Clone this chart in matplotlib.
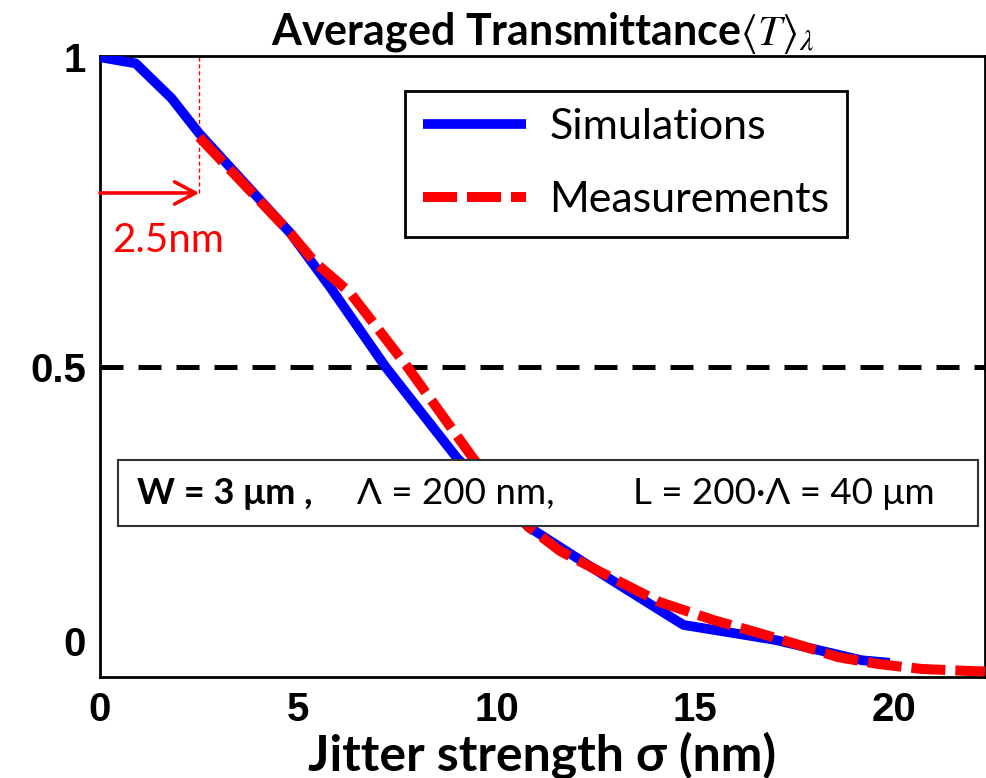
import matplotlib
matplotlib.use("Agg")
import matplotlib.pyplot as plt
from matplotlib.patches import Rectangle
from matplotlib.transforms import ScaledTranslation

# simulated averaged transmittance vs jitter strength
sim_x = [0, 0.9, 1.8, 2.5, 4.8, 5.8, 7.2, 9.0, 10.8, 12.9, 14.7, 17.0, 19.2, 19.9]
sim_y = [1.0, 0.99, 0.934, 0.877, 0.716, 0.629, 0.50, 0.353, 0.242, 0.156, 0.084, 0.060, 0.027, 0.023]

# measured
meas_x = [2.5, 4.8, 5.4, 6.3, 7.75, 9.4, 10.8, 11.6, 12.5, 14.1, 15.45, 16.6, 17.6, 18.6, 19.6, 20.7, 21.8, 22.3]
meas_y = [0.871, 0.716, 0.670, 0.620, 0.50, 0.353, 0.242, 0.203, 0.173, 0.121, 0.092, 0.071, 0.052, 0.032, 0.021, 0.013, 0.010, 0.009]

x_ticks = [0, 5, 10, 15, 20]
y_ticks = [0, 0.5, 1]
y_ticklabels = ["0", "0.5", "1"]
threshold = 0.5
offset_nm = 2.5
arrow_y = 0.781

fam = ["Lato", "DejaVu Sans"]
tick_fam = ["Liberation Sans", "DejaVu Sans"]
plt.rcParams["mathtext.fontset"] = "stix"

fig = plt.figure(figsize=(9.87, 7.78), dpi=100)
ax = fig.add_axes([100/987, 1-677/778, 885/987, 621/778])

ax.plot(sim_x, sim_y, color="#0000ff", lw=7, label="Simulations", solid_capstyle="butt", zorder=3)
ax.plot(meas_x, meas_y, color="#ff0000", lw=7.2, dashes=(3.4, 1.0), label="Measurements", zorder=4)
ax.axhline(threshold, color="black", lw=3.6, dashes=(4.6, 3.0), zorder=2)

# 2.5 nm marker
ax.plot([offset_nm, offset_nm], [arrow_y, 1.0], color="red", lw=1, dashes=(3, 2), zorder=2)
ax.annotate("", xy=(offset_nm, arrow_y), xytext=(0, arrow_y),
            arrowprops=dict(arrowstyle="->,head_length=0.75,head_width=0.4", color="red",
                            lw=2.6, mutation_scale=20, shrinkA=0, shrinkB=0))
ax.text(0.3, 0.705, "2.5nm", color="red", fontsize=29, family=fam, ha="left", va="center")

ax.set_xlim(0, 22.3)
ax.set_ylim(0, 1.002)
ax.set_xticks(x_ticks)
ax.set_yticks(y_ticks)
ax.set_yticklabels(y_ticklabels)
ax.tick_params(length=0, pad=10, labelsize=29)
for lab in ax.get_xticklabels() + ax.get_yticklabels():
    lab.set_fontweight("bold")
    lab.set_family(tick_fam)
# the "0" label sits a bit above the bottom
zero_lab = ax.get_yticklabels()[0]
zero_lab.set_transform(zero_lab.get_transform() + ScaledTranslation(0, 36/100, fig.dpi_scale_trans))

for s in ax.spines.values():
    s.set_linewidth(2)

ax.set_xlabel("Jitter strength σ (nm)", fontsize=36, fontweight="bold", family=fam, labelpad=2)
ax.set_title(r"Averaged Transmittance$\langle T\rangle_\lambda$", fontsize=31, fontweight="bold",
             family=fam, pad=6)

leg = ax.legend(loc="upper left", bbox_to_anchor=(0.345, 0.944), borderaxespad=0,
                prop={"family": fam, "size": 31}, handlelength=2.4, handletextpad=0.55,
                labelspacing=0.82, borderpad=0.4, fancybox=False, framealpha=1)
leg.get_frame().set_edgecolor("black")
leg.get_frame().set_linewidth(2)

# parameter box
ax.add_patch(Rectangle((0.0203, 0.243), 0.972, 0.106, transform=ax.transAxes, fill=True,
                       facecolor="white", edgecolor="#333333", lw=1.5, zorder=5))
ax.text(0.042, 0.296, "W = 3 μm ,", transform=ax.transAxes, fontsize=26, fontweight="bold",
        family=fam, va="center", ha="left", zorder=6)
ax.text(0.290, 0.296, "Λ = 200 nm,", transform=ax.transAxes, fontsize=26.5,
        family=fam, va="center", ha="left", zorder=6)
ax.text(0.602, 0.296, "L = 200·Λ = 40 μm", transform=ax.transAxes, fontsize=26.5,
        family=fam, va="center", ha="left", zorder=6)

fig.savefig("out.png", dpi=100)
